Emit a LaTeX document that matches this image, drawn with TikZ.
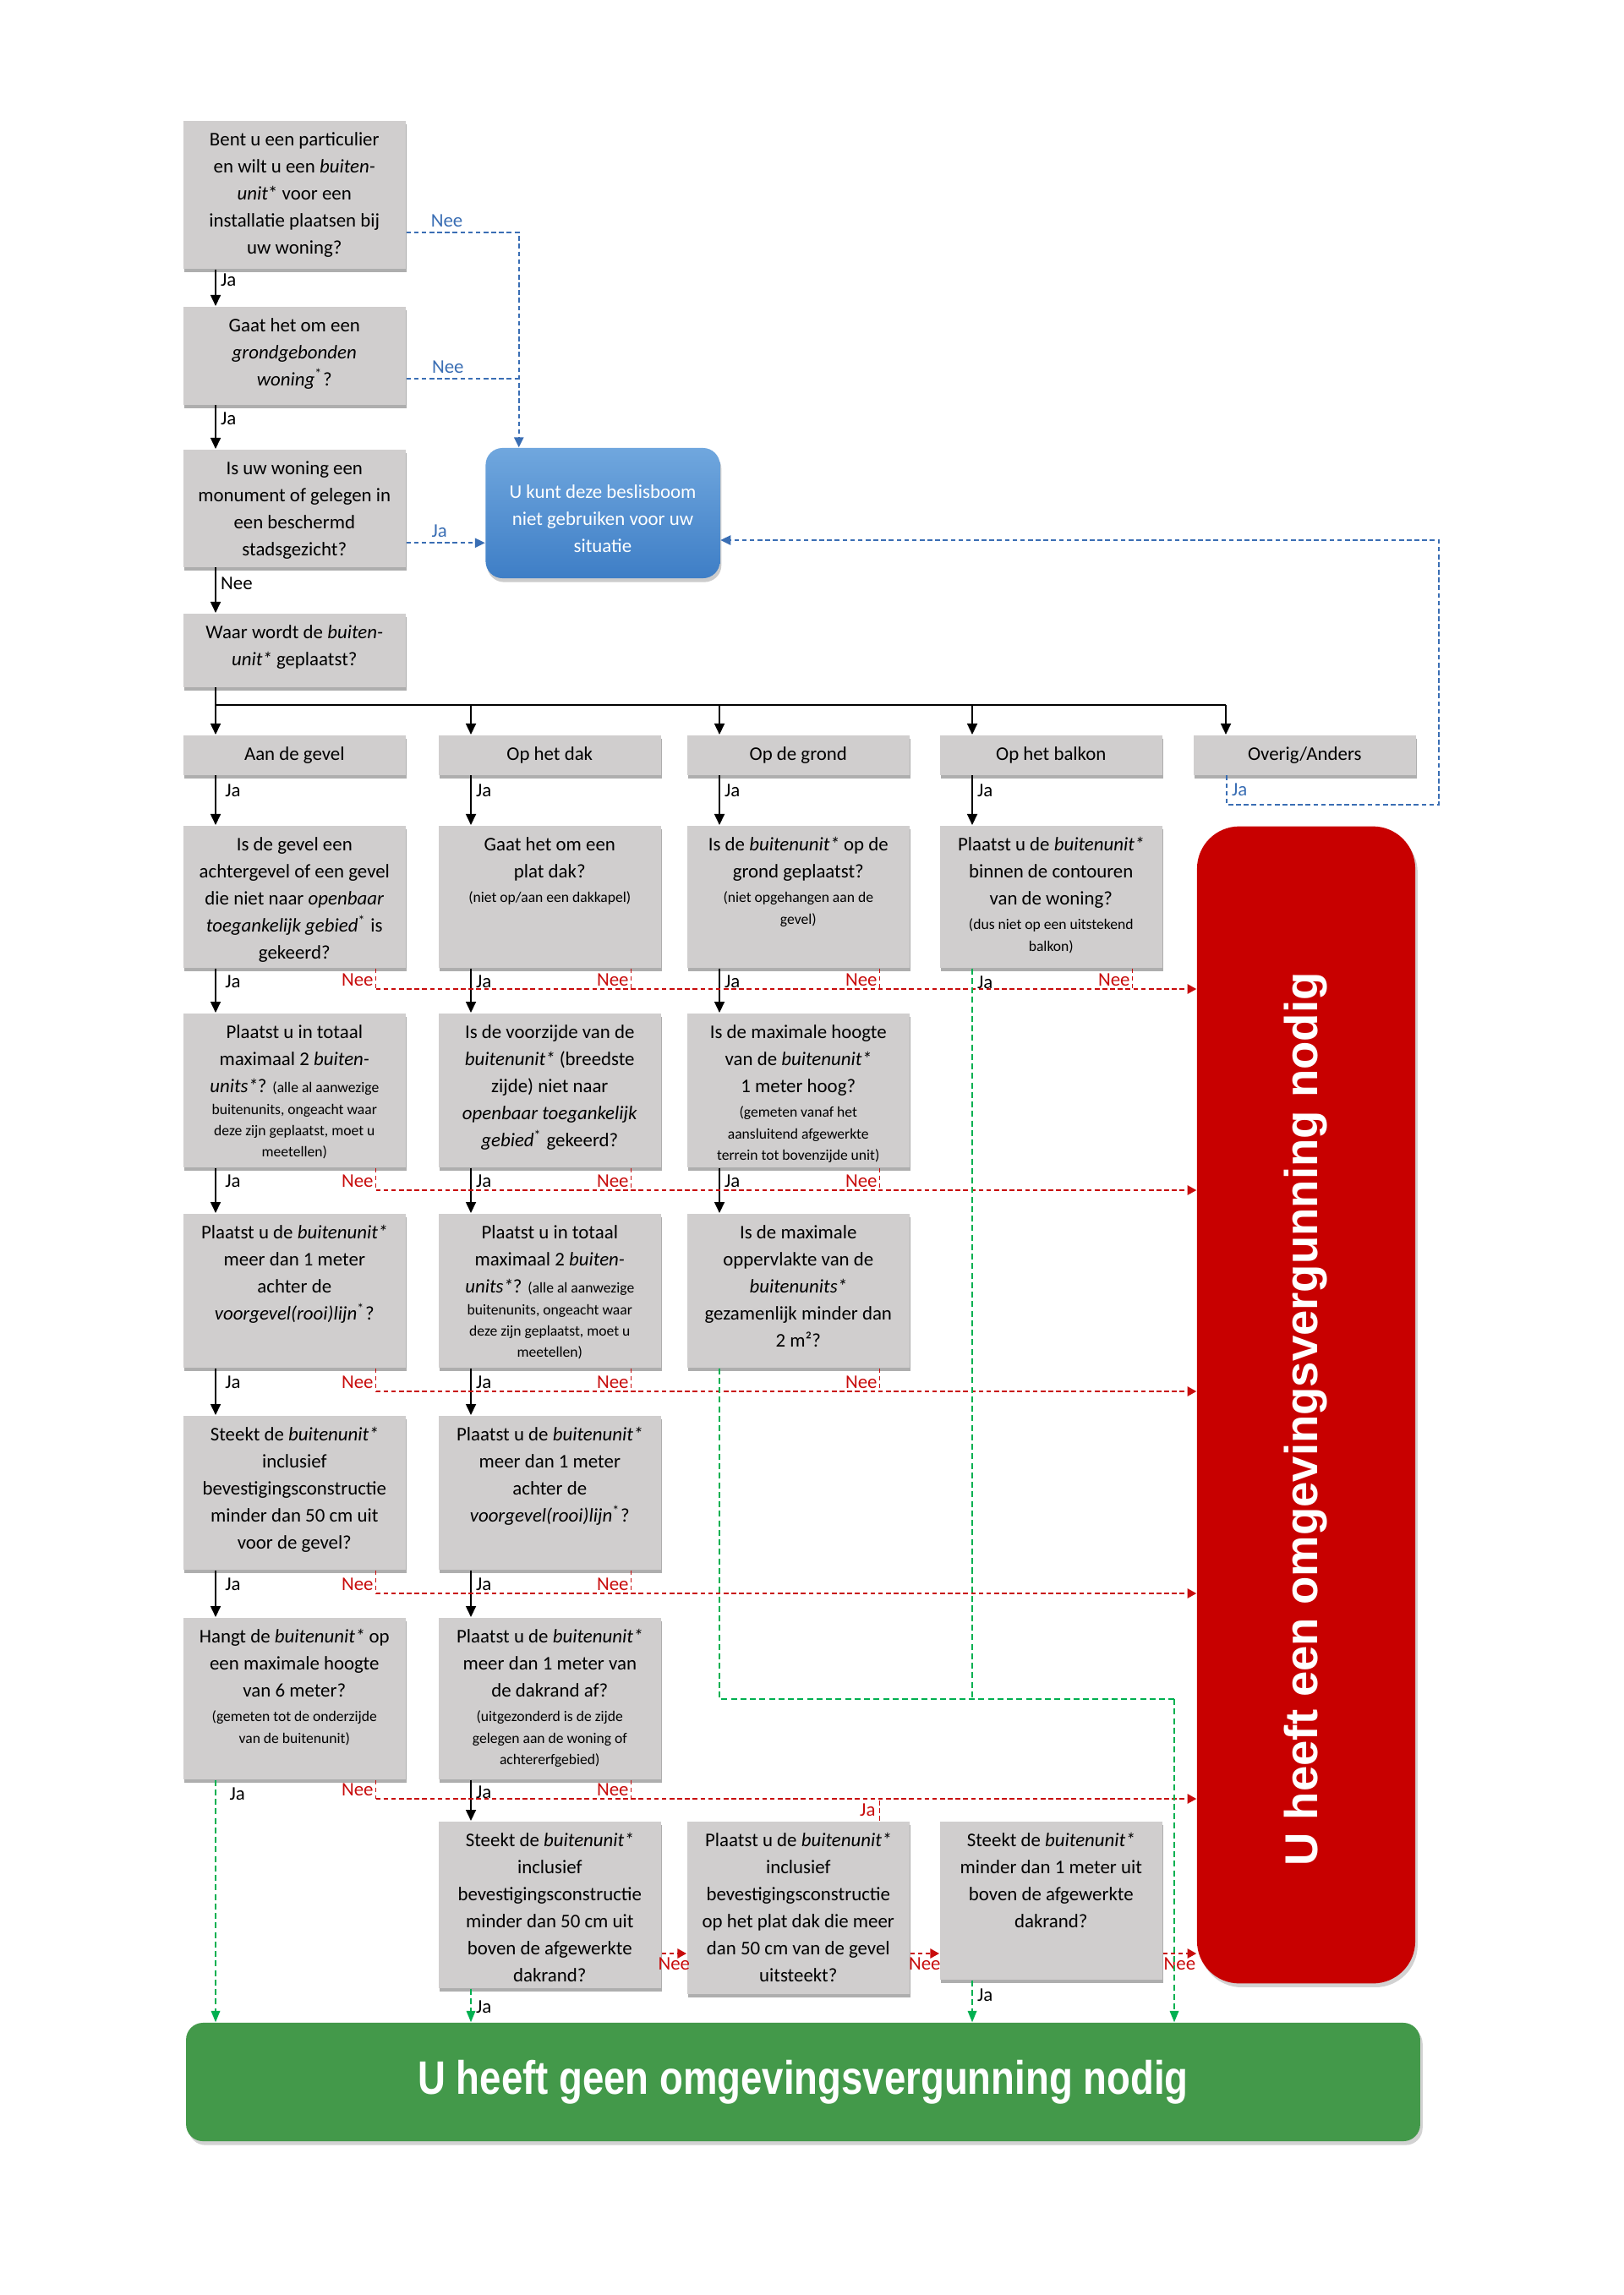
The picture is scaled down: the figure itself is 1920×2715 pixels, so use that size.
\documentclass[tikz,border=0pt]{standalone}
\usepackage{fontspec}
\setmainfont{Carlito}
\newfontfamily\roodfont{Liberation Sans}
\newfontfamily\groenfont[FakeStretch=0.82]{Liberation Sans}
\usepackage{graphicx}
\usepackage{xcolor}
\usepackage{tikz}
\usetikzlibrary{positioning, arrows.meta, shadows}

\definecolor{grijs}{RGB}{208,206,206}
\definecolor{rood}{RGB}{200,0,0}
\definecolor{neerood}{RGB}{200,12,12}
\definecolor{groenvlak}{RGB}{67,153,74}
\definecolor{groenstreep}{RGB}{0,176,80}
\definecolor{blauwstreep}{RGB}{58,110,180}
\definecolor{blauwtop}{RGB}{112,167,222}
\definecolor{blauwbodem}{RGB}{62,126,198}

\newcommand{\sm}{\fontsize{5}{7.2}\selectfont}
\newcommand{\vraag}[2]{\parbox[t][\dimexpr#1cm-4.4pt\relax][t]{2.5cm}{\centering\fontsize{6.5}{9.1}\selectfont\strut#2}}

\begin{document}
\begin{tikzpicture}[x=0.01cm, y=-0.01cm,
  every node/.style={font=\fontsize{6.5}{9.1}\selectfont},
  vak/.style={fill=grijs, inner xsep=0.065cm, inner ysep=2.2pt, anchor=north west,
    drop shadow={shadow xshift=0.3pt, shadow yshift=-1.3pt, opacity=0.45, fill=black!70}},
  keuze/.style={vak, minimum width=2.63cm, minimum height=0.47cm, inner sep=0pt},
  blauwvak/.style={top color=blauwtop, bottom color=blauwbodem, rounded corners=0.2cm,
    minimum width=2.77cm, minimum height=1.54cm, inner sep=0pt, text=white, align=center,
    drop shadow={shadow xshift=0.5pt, shadow yshift=-1.3pt, opacity=0.4}},
  roodvak/.style={fill=rood, rounded corners=0.5cm, minimum width=2.58cm, minimum height=13.68cm,
    inner sep=0pt, text=white, drop shadow={shadow xshift=0.8pt, shadow yshift=-1.3pt, opacity=0.35}},
  groenvak/.style={fill=groenvlak, rounded corners=0.2cm, minimum width=14.59cm, minimum height=1.40cm,
    inner sep=0pt, text=white, drop shadow={shadow xshift=0.8pt, shadow yshift=-1.3pt, opacity=0.35}},
  pijl/.style={-{Triangle[length=3.7pt,width=3.4pt]}, line width=0.5pt},
  nee/.style={color=neerood, line width=0.5pt, dash pattern=on 1.6pt off 1pt},
  neepijl/.style={nee, -{Triangle[length=3pt,width=3.2pt]}},
  groenlijn/.style={color=groenstreep, line width=0.45pt, dash pattern=on 2pt off 1.2pt},
  groenpijl/.style={groenlijn, -{Triangle[length=3.8pt,width=3pt]}},
  blauw/.style={color=blauwstreep, line width=0.5pt, dash pattern=on 1.6pt off 1pt},
  blauwpijl/.style={blauw, -{Triangle[length=3.4pt,width=3.2pt]}},
  jatxt/.style={anchor=west, inner sep=1.5pt, text=black},
  neetxt/.style={anchor=south east, inner sep=0.6pt},
  neeonder/.style={anchor=north, inner sep=1pt}]

  \path[fill=white] (0,0) rectangle (1920,2715);

  \node[vak] (b1) at (216,142) {\vraag{1.75}{Bent u een particulier\\ en wilt u een \textit{buiten-}\\ \textit{unit}* voor een\\ installatie plaatsen bij\\ uw woning?}};
  \node[vak] (b2) at (216,362) {\vraag{1.16}{Gaat het om een\\ \textit{grondgebonden}\\ \textit{woning}\textsuperscript{*}?}};
  \node[vak] (b3) at (216,531) {\vraag{1.39}{Is uw woning een\\ monument of gelegen in\\ een beschermd\\ stadsgezicht?}};
  \node[vak] (b4) at (216,725) {\vraag{0.87}{Waar wordt de \textit{buiten-}\\ \textit{unit*} geplaatst?}};
  \node[blauwvak] (blue) at (713,607) {\raisebox{-2pt}[\height][\depth]{\parbox{2.7cm}{\centering U kunt deze beslisboom\\ niet gebruiken voor uw\\ situatie}}};

  \node[keuze] (c1) at (216,869) {Aan de gevel};
  \node[keuze] (c2) at (518,869) {Op het dak};
  \node[keuze] (c3) at (812,869) {Op de grond};
  \node[keuze] (c4) at (1111,869) {Op het balkon};
  \node[keuze] (c5) at (1411,869) {Overig/Anders};

  \node[vak] (q11) at (216,976) {\vraag{1.68}{Is de gevel een\\ achtergevel of een gevel\\ die niet naar \textit{openbaar}\\ \textit{toegankelijk gebied}\textsuperscript{*} is\\ gekeerd?}};
  \node[vak] (q12) at (518,976) {\vraag{1.68}{Gaat het om een\\ plat dak?\par\vskip1pt{\sm (niet op/aan een dakkapel)\par}}};
  \node[vak] (q13) at (812,976) {\vraag{1.68}{Is de \textit{buitenunit*} op de\\ grond geplaatst?\par\vskip1pt{\sm (niet opgehangen aan de\\ gevel)\par}}};
  \node[vak] (q14) at (1111,976) {\vraag{1.68}{Plaatst u de \textit{buitenunit*}\\ binnen de contouren\\ van de woning?\par\vskip1pt{\sm (dus niet op een uitstekend\\ balkon)\par}}};

  \node[vak] (q21) at (216,1198) {\vraag{1.82}{Plaatst u in totaal\\ maximaal 2 \textit{buiten-}\\ \textit{units*}? {\sm (alle al aanwezige}\par{\sm buitenunits, ongeacht waar\\ deze zijn geplaatst, moet u\\ meetellen)\par}}};
  \node[vak] (q22) at (518,1198) {\vraag{1.82}{Is de voorzijde van de\\ \textit{buitenunit*} (breedste\\ zijde) niet naar\\ \textit{openbaar toegankelijk}\\ \textit{gebied}\textsuperscript{*} gekeerd?}};
  \node[vak] (q23) at (812,1198) {\vraag{1.82}{Is de maximale hoogte\\ van de \textit{buitenunit*}\\ 1 meter hoog?\par\vskip1pt{\sm (gemeten vanaf het\\ aansluitend afgewerkte\\ terrein tot bovenzijde unit)\par}}};

  \node[vak] (q31) at (216,1435) {\vraag{1.82}{Plaatst u de \textit{buitenunit*}\\ meer dan 1 meter\\ achter de\\ \textit{voorgevel(rooi)lijn}\textsuperscript{*}?}};
  \node[vak] (q32) at (518,1435) {\vraag{1.82}{Plaatst u in totaal\\ maximaal 2 \textit{buiten-}\\ \textit{units*}? {\sm (alle al aanwezige}\par{\sm buitenunits, ongeacht waar\\ deze zijn geplaatst, moet u\\ meetellen)\par}}};
  \node[vak] (q33) at (812,1435) {\vraag{1.82}{Is de maximale\\ oppervlakte van de\\ \textit{buitenunits*}\\ gezamenlijk minder dan\\ 2 m²?}};

  \node[vak] (q41) at (216,1674) {\vraag{1.82}{Steekt de \textit{buitenunit*}\\ inclusief\\ bevestigingsconstructie\\ minder dan 50 cm uit\\ voor de gevel?}};
  \node[vak] (q42) at (518,1674) {\vraag{1.82}{Plaatst u de \textit{buitenunit*}\\ meer dan 1 meter\\ achter de\\ \textit{voorgevel(rooi)lijn}\textsuperscript{*}?}};

  \node[vak] (q51) at (216,1913) {\vraag{1.91}{Hangt de \textit{buitenunit*} op\\ een maximale hoogte\\ van 6 meter?\par\vskip1pt{\sm (gemeten tot de onderzijde\\ van de buitenunit)\par}}};
  \node[vak] (q52) at (518,1913) {\vraag{1.91}{Plaatst u de \textit{buitenunit*}\\ meer dan 1 meter van\\ de dakrand af?\par\vskip1pt{\sm (uitgezonderd is de zijde\\ gelegen aan de woning of\\ achtererfgebied)\par}}};

  \node[vak] (q62) at (518,2154) {\vraag{1.97}{Steekt de \textit{buitenunit*}\\ inclusief\\ bevestigingsconstructie\\ minder dan 50 cm uit\\ boven de afgewerkte\\ dakrand?}};
  \node[vak] (q63) at (812,2154) {\vraag{2.04}{Plaatst u de \textit{buitenunit*}\\ inclusief\\ bevestigingsconstructie\\ op het plat dak die meer\\ dan 50 cm van de gevel\\ uitsteekt?}};
  \node[vak] (q64) at (1111,2154) {\vraag{1.87}{Steekt de \textit{buitenunit*}\\ minder dan 1 meter uit\\ boven de afgewerkte\\ dakrand?}};

  \node[roodvak] (red) at (1545,1662) {\rotatebox{90}{\roodfont\bfseries\fontsize{15.5}{18}\selectfont U heeft een omgevingsvergunning nodig\hspace*{0.34cm}}};
  \node[groenvak] (green) at (950,2463) {\groenfont\bfseries\fontsize{15.8}{18}\selectfont U heeft geen omgevingsvergunning nodig};

  \coordinate (bus) at (0,834);
  \coordinate (l1) at (0,1170);
  \coordinate (l2) at (0,1408);
  \coordinate (l3) at (0,1646);
  \coordinate (l4) at (0,1885);
  \coordinate (l5) at (0,2128);
  \coordinate (l6) at (0,2311);
  \coordinate (gj) at (1389,2010);
  \coordinate (bk) at (1702,952);
  \coordinate (bj) at ([xshift=0.4cm]blue.north west);

  \draw[blauwpijl] ([yshift=-0.45cm]b1.east) -| node[pos=0.18, above, inner sep=1.5pt]{Nee} (bj);
  \draw[blauw] ([yshift=-0.27cm]b2.east) -- ([yshift=-0.27cm]b2.east -| bj) node[pos=0.37, above, inner sep=1.5pt]{Nee};
  \draw[blauwpijl] ([yshift=-0.41cm]b3.east) -- ([yshift=-0.41cm]b3.east -| blue.west) node[pos=0.42, above, inner sep=1.5pt]{Ja};
  \draw[blauwpijl] ([xshift=0.4cm]c5.south west) |- node[pos=0.25, right, inner sep=1.5pt]{Ja} (bk) |- ([yshift=-0.32cm]blue.east);

  \draw[pijl] ([xshift=0.39cm]b1.south west) -- ([xshift=0.39cm]b2.north west) node[jatxt, pos=0.3]{Ja};
  \draw[pijl] ([xshift=0.39cm]b2.south west) -- ([xshift=0.39cm]b3.north west) node[jatxt, pos=0.3]{Ja};
  \draw[pijl] ([xshift=0.39cm]b3.south west) -- ([xshift=0.39cm]b4.north west) node[jatxt, pos=0.35]{Nee};
  \draw[line width=0.7pt] ([xshift=0.39cm]b4.south west) |- ([xshift=0.39cm]c5.north west |- bus);
  \foreach \c in {c1,c2,c3,c4,c5}
    \draw[pijl] ([xshift=0.39cm]\c.north west |- bus) -- ([xshift=0.39cm]\c.north west);

  \foreach \a/\b in {c1/q11, q11/q21, q21/q31, q31/q41, q41/q51}
    \draw[pijl] ([xshift=0.39cm]\a.south west) -- ([xshift=0.39cm]\b.north west) node[jatxt, pos=0.3, xshift=1.5pt]{Ja};
  \foreach \a/\b in {c2/q12, c3/q13, c4/q14, q12/q22, q22/q32, q32/q42, q42/q52, q52/q62, q13/q23, q23/q33}
    \draw[pijl] ([xshift=0.39cm]\a.south west) -- ([xshift=0.39cm]\b.north west) node[jatxt, pos=0.3]{Ja};

  \foreach \q/\l in {q11/l1, q12/l1, q13/l1, q14/l1, q21/l2, q22/l2, q23/l2, q31/l3, q32/l3, q33/l3,
                     q41/l4, q42/l4, q51/l5, q52/l5}
    \draw[nee] ([xshift=-0.36cm]\q.south east) -- ([xshift=-0.36cm]\q.south east |- \l) node[neetxt]{Nee};
  \foreach \q/\l in {q11/l1, q21/l2, q31/l3, q41/l4, q51/l5}
    \draw[neepijl] ([xshift=-0.36cm]\q.south east |- \l) -- (red.west |- \l);

  \draw[nee] ([xshift=-0.36cm]q63.north east) -- ([xshift=-0.36cm]q63.north east |- l5) node[midway, anchor=east, inner sep=1.2pt]{Ja};
  \draw[neepijl] (q62.east |- l6) -- (q63.west |- l6) node[neeonder, midway]{Nee};
  \draw[neepijl] (q63.east |- l6) -- (q64.west |- l6) node[neeonder, midway]{Nee};
  \draw[neepijl] (q64.east |- l6) -- (red.west |- l6) node[neeonder, midway]{Nee};

  \draw[groenpijl] ([xshift=0.39cm]q51.south west) -- ([xshift=0.39cm]q51.south west |- green.north) node[jatxt, pos=0.06, xshift=3pt]{Ja};
  \draw[groenpijl] ([xshift=0.39cm]q62.south west) -- ([xshift=0.39cm]q62.south west |- green.north) node[jatxt, pos=0.55]{Ja};
  \draw[groenpijl] ([xshift=0.39cm]q64.south west) -- ([xshift=0.39cm]q64.south west |- green.north) node[jatxt, pos=0.35]{Ja};
  \draw[groenlijn] ([xshift=0.39cm]q33.south west) |- (gj);
  \draw[groenlijn] ([xshift=0.39cm]q14.south west) -- ([xshift=0.39cm]q14.south west |- gj) node[jatxt, pos=0.019]{Ja};
  \draw[groenpijl] (gj) -- (gj |- green.north);
\end{tikzpicture}
\end{document}
